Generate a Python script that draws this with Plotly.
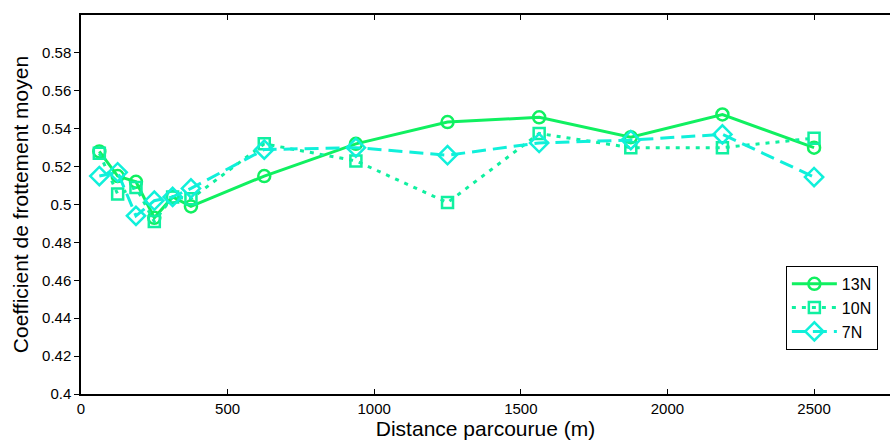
import plotly.graph_objects as go

distance = [62.5, 125, 187.5, 250, 312.5, 375, 625, 937.5, 1250, 1562.5, 1875, 2187.5, 2500]
mu_13N = [0.528, 0.515, 0.512, 0.493, 0.504, 0.499, 0.515, 0.532, 0.5435, 0.546, 0.5355, 0.5475, 0.530]
mu_10N = [0.527, 0.5055, 0.509, 0.491, 0.504, 0.503, 0.532, 0.523, 0.501, 0.5375, 0.530, 0.530, 0.535]
mu_7N = [0.515, 0.517, 0.494, 0.502, 0.504, 0.5085, 0.529, 0.530, 0.526, 0.5325, 0.534, 0.537, 0.5145]

font = "Liberation Sans, Arial, sans-serif"

fig = go.Figure()
fig.add_trace(go.Scatter(
    x=distance, y=mu_13N, name="13N", mode="lines+markers",
    line=dict(color="#10F060", width=3, dash="solid"),
    marker=dict(symbol="circle-open", size=12, line=dict(width=2.5, color="#10F060"))))
fig.add_trace(go.Scatter(
    x=distance, y=mu_10N, name="10N", mode="lines+markers",
    line=dict(color="#10F0A0", width=3, dash="4px,6px"),
    marker=dict(symbol="square-open", size=11, line=dict(width=2.5, color="#10F0A0"))))
fig.add_trace(go.Scatter(
    x=distance, y=mu_7N, name="7N", mode="lines+markers",
    line=dict(color="#10F0DA", width=3, dash="14px,7px"),
    marker=dict(symbol="diamond-open", size=14, line=dict(width=2.5, color="#10F0DA"))))

fig.update_layout(
    width=890, height=441,
    margin=dict(l=81, r=0, t=15, b=47, autoexpand=False),
    paper_bgcolor="white", plot_bgcolor="white",
    font=dict(family=font, size=15, color="black"),
    showlegend=True,
    legend=dict(x=0.985, y=0.338, xanchor="right", yanchor="top",
                bgcolor="white", bordercolor="black", borderwidth=1,
                itemwidth=45,
                font=dict(size=16, family=font), tracegroupgap=0),
    xaxis=dict(range=[0, 2759], tickvals=[0, 500, 1000, 1500, 2000, 2500],
               ticks="inside", ticklen=5, tickcolor="black", showgrid=False, zeroline=False,
               showline=True, linecolor="black", linewidth=1.5, mirror="ticks",
               title=dict(text="Distance parcourue (m)", font=dict(size=21), standoff=0),
               tickfont=dict(size=15)),
    yaxis=dict(range=[0.4, 0.6], tickvals=[0.4, 0.42, 0.44, 0.46, 0.48, 0.5, 0.52, 0.54, 0.56, 0.58],
               ticktext=["0.4", "0.42", "0.44", "0.46", "0.48", "0.5", "0.52", "0.54", "0.56", "0.58"],
               ticks="outside", ticklen=5, tickcolor="black", showgrid=False, zeroline=False,
               showline=True, linecolor="black", linewidth=1.5,
               title=dict(text="Coefficient de frottement moyen", font=dict(size=21), standoff=8),
               tickfont=dict(size=15)),
)

fig.write_html("out.html", config={"displayModeBar": False},
               post_script="document.body.style.margin='0px';")
